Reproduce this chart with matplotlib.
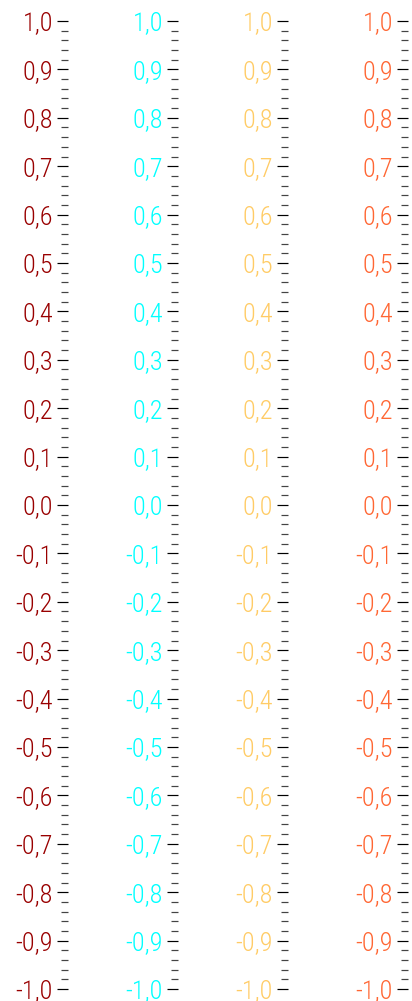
import matplotlib
matplotlib.use("Agg")
import matplotlib.pyplot as plt
from matplotlib.ticker import MultipleLocator, FuncFormatter

# four identical scales, only the label colour differs
colors = ["#990000", "#00ffff", "#ffcc66", "#ff6633"]
axis_x = [68, 178, 288, 408]   # spine positions in pixels
y_min, y_max = -1.0, 1.0
major_step = 0.1
minor_step = 0.02

plt.rcParams['font.family'] = ['Roboto Condensed', 'DejaVu Sans']
plt.rcParams['font.weight'] = 'light'

W, H = 412, 1001
fig = plt.figure(figsize=(W / 100, H / 100), dpi=100)

def fmt(v, pos):
    s = "%.1f" % v
    if s == "-0.0":
        s = "0.0"
    return s.replace(".", ",")

px = 72 / 100  # one pixel in points
bottom = 1 - 989 / H
top = 1 - 21 / H
for c, x in zip(colors, axis_x):
    ax = fig.add_axes([x / W, bottom, 0.0001, top - bottom])
    ax.set_ylim(y_min, y_max)
    for s in ax.spines.values():
        s.set_visible(False)
    ax.set_xticks([])
    ax.yaxis.set_major_locator(MultipleLocator(major_step))
    ax.yaxis.set_minor_locator(MultipleLocator(minor_step))
    ax.yaxis.set_major_formatter(FuncFormatter(fmt))
    ax.tick_params(axis="y", which="major", length=11 * px, width=1.2 * px, color="black",
                   labelcolor=c, labelsize=19, pad=4 * px)
    ax.tick_params(axis="y", which="minor", length=7 * px, width=1.2 * px, color="#444444")
    ax.patch.set_visible(False)

fig.savefig("out.png", dpi=100)
